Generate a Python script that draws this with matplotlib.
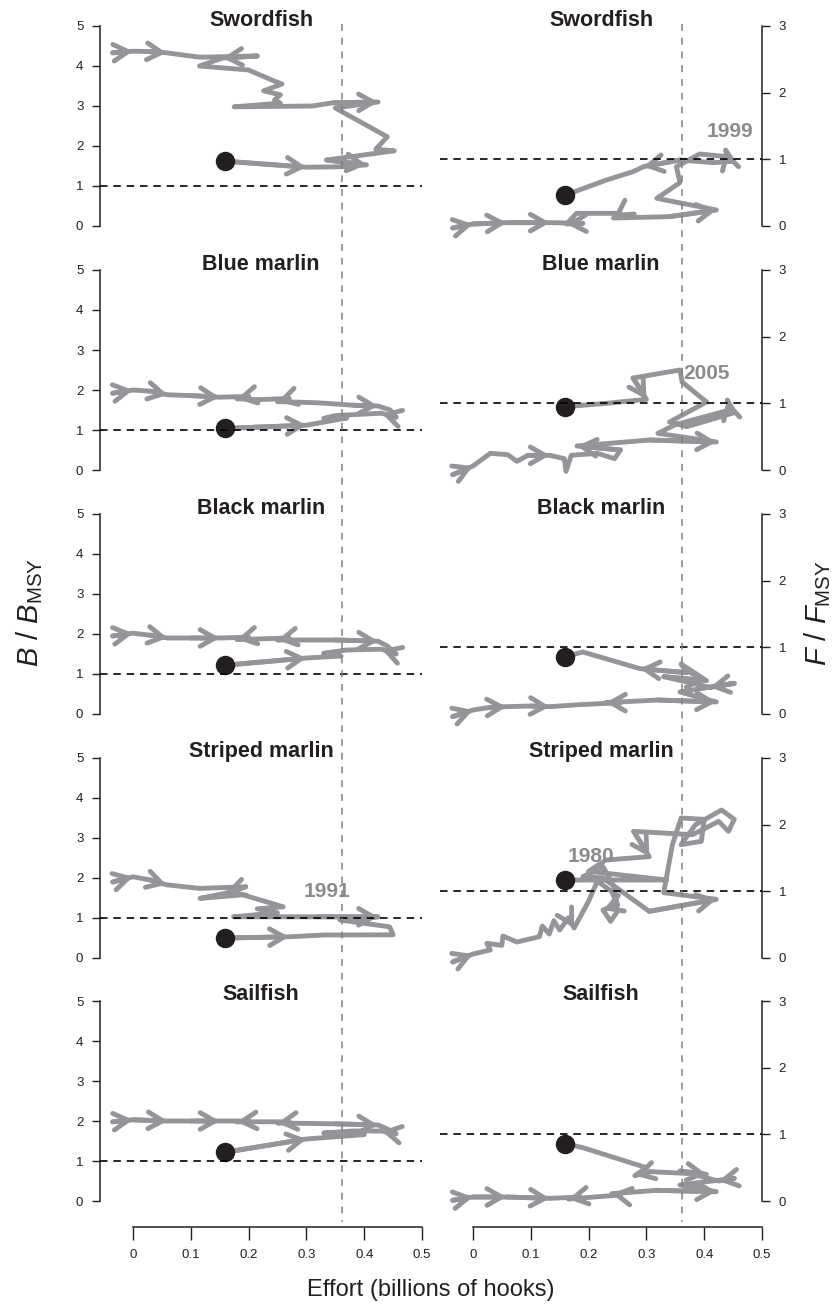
import matplotlib
matplotlib.use('Agg')
import matplotlib.pyplot as plt
from matplotlib.transforms import blended_transform_factory
from matplotlib.lines import Line2D

plt.rcParams['font.family'] = ['Liberation Sans', 'DejaVu Sans']
plt.rcParams['mathtext.fontset'] = 'custom'
plt.rcParams['mathtext.rm'] = 'Liberation Sans'
plt.rcParams['mathtext.it'] = 'Liberation Sans:italic'
plt.rcParams['mathtext.bf'] = 'Liberation Sans:bold'

# ---------------- data ----------------
species = ['Swordfish', 'Blue marlin', 'Black marlin', 'Striped marlin', 'Sailfish']
effort_ticks = [0, 0.1, 0.2, 0.3, 0.4, 0.5]
effort_tick_labels = ['0', '0.1', '0.2', '0.3', '0.4', '0.5']
b_ticks = [0, 1, 2, 3, 4, 5]
f_ticks = [0, 1, 2, 3]
effort_ref = 0.362

# Swordfish
swo_b_effort = [-0.035, 0.000, 0.030, 0.058, 0.115, 0.215, 0.155, 0.115, 0.200, 0.245, 0.258, 0.226, 0.255,
                0.245, 0.255, 0.175, 0.310, 0.346, 0.424, 0.350, 0.440, 0.420, 0.452, 0.335, 0.404, 0.360,
                0.300, 0.160]
swo_b_ratio = [4.33, 4.37, 4.36, 4.33, 4.22, 4.25, 4.20, 4.00, 3.90, 3.62, 3.55, 3.38, 3.28,
               3.15, 3.07, 2.98, 3.00, 3.08, 3.10, 2.95, 2.23, 1.92, 1.88, 1.65, 1.53, 1.48,
               1.47, 1.62]
swo_b_heads = [1, 3, 6, 18, 24]
swo_b_back = [26]
swo_f_effort = [-0.035, 0.000, 0.058, 0.133, 0.190, 0.162, 0.179, 0.255, 0.243, 0.340, 0.421, 0.318,
                0.358, 0.352, 0.392, 0.440, 0.437, 0.450, 0.416, 0.358, 0.295, 0.277, 0.231, 0.160]
swo_f_ratio = [-0.03, 0.03, 0.05, 0.05, 0.04, 0.03, 0.19, 0.19, 0.12, 0.14, 0.24, 0.415,
               0.65, 0.89, 1.08, 1.04, 1.14, 0.97, 0.95, 0.99, 0.89, 0.815, 0.69, 0.465]
swo_f_heads = [1, 2, 3, 5, 8, 10, 16, 20]
swo_f_back = []

# Blue marlin
bum_b_effort = [-0.035, 0.000, 0.030, 0.060, 0.100, 0.150, 0.200, 0.180, 0.220, 0.270, 0.250, 0.320,
                0.380, 0.424, 0.445, 0.455, 0.430, 0.350, 0.330, 0.370, 0.300, 0.160]
bum_b_ratio = [1.92, 2.00, 1.97, 1.88, 1.86, 1.82, 1.84, 1.78, 1.76, 1.79, 1.71, 1.68,
               1.62, 1.60, 1.50, 1.32, 1.42, 1.36, 1.29, 1.30, 1.12, 1.04]
bum_b_heads = [1, 3, 5, 7, 10, 13, 16]
bum_b_back = [20]
bum_f_effort = [-0.035, 0.000, 0.030, 0.060, 0.076, 0.095, 0.133, 0.158, 0.161, 0.170, 0.215, 0.245,
                0.255, 0.180, 0.306, 0.421, 0.320, 0.350, 0.444, 0.440, 0.452, 0.370, 0.340, 0.404,
                0.362, 0.358, 0.277, 0.300, 0.231, 0.160]
bum_f_ratio = [-0.07, 0.06, 0.25, 0.23, 0.13, 0.22, 0.22, 0.17, -0.02, 0.22, 0.25, 0.17,
               0.30, 0.36, 0.45, 0.42, 0.55, 0.68, 0.90, 1.05, 0.86, 0.65, 0.72, 1.02,
               1.32, 1.50, 1.38, 1.06, 1.00, 0.95]
bum_f_heads = [1, 6, 13, 15, 19, 27]
bum_f_back = []

# Black marlin
blm_b_effort = [-0.035, 0.000, 0.030, 0.060, 0.100, 0.150, 0.200, 0.180, 0.270, 0.250, 0.350, 0.424,
                0.440, 0.455, 0.430, 0.370, 0.330, 0.360, 0.300, 0.160]
blm_b_ratio = [1.95, 2.02, 1.97, 1.90, 1.90, 1.90, 1.92, 1.86, 1.90, 1.85, 1.85, 1.82,
               1.70, 1.50, 1.62, 1.60, 1.52, 1.45, 1.40, 1.22]
blm_b_heads = [1, 3, 5, 7, 9, 11, 14]
blm_b_back = [18]
blm_f_effort = [-0.035, 0.000, 0.030, 0.058, 0.100, 0.133, 0.185, 0.255, 0.230, 0.320, 0.421, 0.358,
                0.452, 0.410, 0.330, 0.404, 0.360, 0.370, 0.289, 0.190, 0.160]
blm_f_ratio = [-0.04, 0.06, 0.10, 0.11, 0.12, 0.11, 0.14, 0.17, 0.17, 0.21, 0.18, 0.33,
               0.46, 0.40, 0.56, 0.50, 0.75, 0.62, 0.68, 0.93, 0.86]
blm_f_heads = [1, 3, 5, 8, 10, 13, 15, 18]
blm_f_back = []

# Striped marlin
stm_b_effort = [-0.035, 0.000, 0.030, 0.058, 0.115, 0.195, 0.160, 0.116, 0.190, 0.260, 0.215, 0.250,
                0.174, 0.318, 0.424, 0.358, 0.444, 0.450, 0.330, 0.270, 0.160]
stm_b_ratio = [1.90, 2.03, 1.95, 1.83, 1.74, 1.78, 1.62, 1.49, 1.58, 1.28, 1.23, 1.13,
               1.03, 1.03, 1.03, 0.95, 0.78, 0.58, 0.575, 0.53, 0.50]
stm_b_heads = [1, 3, 6, 14]
stm_b_back = [19]
stm_f_effort = [-0.035, 0.000, 0.030, 0.024, 0.050, 0.052, 0.076, 0.115, 0.120, 0.132, 0.140, 0.150,
                0.165, 0.175, 0.200, 0.215, 0.240, 0.250, 0.225, 0.238, 0.250, 0.245, 0.225, 0.190,
                0.225, 0.305, 0.421, 0.330, 0.345, 0.360, 0.400, 0.395, 0.360, 0.385, 0.430, 0.452,
                0.442, 0.425, 0.380, 0.278, 0.305, 0.230, 0.200, 0.335, 0.160]
stm_f_ratio = [-0.06, 0.06, 0.12, 0.22, 0.19, 0.33, 0.24, 0.32, 0.48, 0.36, 0.56, 0.42,
               0.60, 0.45, 0.85, 1.15, 1.00, 0.80, 0.72, 0.55, 0.70, 1.05, 1.37, 1.22,
               1.20, 0.70, 0.88, 0.98, 1.70, 2.10, 2.08, 1.75, 1.70, 2.00, 2.22, 2.08,
               1.90, 2.05, 1.85, 1.90, 1.52, 1.47, 1.30, 1.17, 1.17]
stm_f_heads = [1, 13, 18, 26, 40]
stm_f_back = []

# Sailfish
sfa_b_effort = [-0.035, 0.000, 0.060, 0.100, 0.150, 0.200, 0.180, 0.270, 0.250, 0.350, 0.424, 0.440,
                0.455, 0.430, 0.380, 0.330, 0.400, 0.300, 0.160]
sfa_b_ratio = [1.98, 2.03, 2.00, 2.00, 2.00, 2.00, 1.98, 1.98, 1.95, 1.93, 1.90, 1.80,
               1.68, 1.75, 1.75, 1.70, 1.66, 1.55, 1.22]
sfa_b_heads = [1, 2, 4, 6, 8, 10, 13]
sfa_b_back = [17]
sfa_f_effort = [-0.035, 0.000, 0.058, 0.133, 0.185, 0.165, 0.255, 0.240, 0.318, 0.421, 0.358, 0.452,
                0.425, 0.358, 0.404, 0.306, 0.280, 0.300, 0.190, 0.160]
sfa_f_ratio = [0.01, 0.06, 0.06, 0.04, 0.06, 0.03, 0.09, 0.11, 0.16, 0.14, 0.24, 0.34,
               0.30, 0.45, 0.40, 0.44, 0.38, 0.50, 0.80, 0.86]
sfa_f_heads = [1, 2, 3, 5, 7, 9, 12, 14, 16]
sfa_f_back = []

panels = [
    (swo_b_effort, swo_b_ratio, swo_b_heads, swo_b_back, swo_f_effort, swo_f_ratio, swo_f_heads, swo_f_back),
    (bum_b_effort, bum_b_ratio, bum_b_heads, bum_b_back, bum_f_effort, bum_f_ratio, bum_f_heads, bum_f_back),
    (blm_b_effort, blm_b_ratio, blm_b_heads, blm_b_back, blm_f_effort, blm_f_ratio, blm_f_heads, blm_f_back),
    (stm_b_effort, stm_b_ratio, stm_b_heads, stm_b_back, stm_f_effort, stm_f_ratio, stm_f_heads, stm_f_back),
    (sfa_b_effort, sfa_b_ratio, sfa_b_heads, sfa_b_back, sfa_f_effort, sfa_f_ratio, sfa_f_heads, sfa_f_back),
]

# year annotations: (row, column, effort, ratio, text)
year_labels = [(0, 1, 0.445, 1.42, '1999'),
               (1, 1, 0.404, 1.45, '2005'),
               (3, 1, 0.204, 1.52, '1980'),
               (3, 0, 0.335, 1.66, '1991')]

# ---------------- layout ----------------
W, H = 834, 1305
fig = plt.figure(figsize=(W / 100, H / 100), dpi=100)

GRAY = '#939598'
DARK = '#231f20'
X0_PX = [100, 440]
AX_W_PX = 322
ROW_Y0 = [226, 470, 714, 958, 1201]
B_SCALE = 40.0
XLIM = (-0.057, 0.5)
B_LIM = (-0.5, 5.4)
F_LIM = (B_LIM[0] * 0.6, B_LIM[1] * 0.6)
TICKFONT = ['Liberation Sans Narrow', 'Liberation Sans', 'DejaVu Sans']
LW = 3.5


def head(ax, tail, tip):
    ax.annotate('', xy=tip, xytext=tail,
                arrowprops=dict(arrowstyle='->,head_length=1.05,head_width=0.6', color=GRAY, lw=LW,
                                shrinkA=0, shrinkB=0, capstyle='round', joinstyle='round'),
                annotation_clip=False, zorder=2)


def draw_path(ax, xs, ys, fwd, back):
    ax.plot(xs, ys, color=GRAY, lw=LW, solid_capstyle='round', solid_joinstyle='round', zorder=2)
    for i in fwd:
        head(ax, (xs[i - 1], ys[i - 1]), (xs[i], ys[i]))
    for i in back:
        head(ax, (xs[i + 1], ys[i + 1]), (xs[i], ys[i]))
    ax.plot(xs[-1], ys[-1], 'o', ms=13, color=DARK, zorder=5)


axes = [[None, None] for _ in range(5)]
for r in range(5):
    bottom_px = ROW_Y0[r] - B_LIM[0] * B_SCALE
    top_px = ROW_Y0[r] - B_LIM[1] * B_SCALE
    for c in range(2):
        ax = fig.add_axes([X0_PX[c] / W, 1 - bottom_px / H, AX_W_PX / W, (bottom_px - top_px) / H])
        ax.set_facecolor('none')
        axes[r][c] = ax
        ax.set_xlim(*XLIM)
        ax.set_ylim(*(B_LIM if c == 0 else F_LIM))
        for s in ['top', 'right', 'left', 'bottom']:
            ax.spines[s].set_visible(False)
        bx, by, bh, bb, fx, fy, fh, fb = panels[r]
        if c == 0:
            draw_path(ax, bx, by, bh, bb)
            ax.spines['left'].set_visible(True)
            ax.spines['left'].set_bounds(0, 5)
            ax.set_yticks(b_ticks)
            ax.set_yticklabels([str(t) for t in b_ticks])
        else:
            draw_path(ax, fx, fy, fh, fb)
            ax.spines['right'].set_visible(True)
            ax.spines['right'].set_bounds(0, 3)
            ax.yaxis.tick_right()
            ax.set_yticks(f_ticks)
            ax.set_yticklabels([str(t) for t in f_ticks])
        for s in ['left', 'right', 'bottom']:
            ax.spines[s].set_linewidth(1.1)
            ax.spines[s].set_color(DARK)
        ax.tick_params(axis='y', direction='out', length=6, width=1.0, colors=DARK, pad=6,
                       labelsize=9.5)
        for lab in ax.get_yticklabels():
            lab.set_family(TICKFONT)
        ax.axhline(1.0, color='black', lw=1.2, linestyle=(0, (4.5, 3.5)), zorder=6)
        tt = blended_transform_factory(ax.transAxes, ax.transData)
        ty = 5.15 if c == 0 else 5.15 * 0.6
        ax.text(0.5, ty, species[r], transform=tt, ha='center', va='center',
                fontsize=15.5, fontweight='bold', color=DARK)
        if r == 4:
            ax.spines['bottom'].set_visible(True)
            ax.spines['bottom'].set_bounds(0, 0.5)
            ax.spines['bottom'].set_position(('outward', 4))
            ax.set_xticks(effort_ticks)
            ax.set_xticklabels(effort_tick_labels)
            ax.tick_params(axis='x', direction='out', length=9, width=1.0, colors=DARK, pad=7,
                           labelsize=9.5)
            for lab in ax.get_xticklabels():
                lab.set_family(TICKFONT)
        else:
            ax.set_xticks([])

for (r, c, ex, ey, txt) in year_labels:
    axes[r][c].text(ex, ey, txt, ha='center', va='center', fontsize=15, fontweight='bold',
                    color='#8a8b8e', zorder=7)

# vertical reference effort lines spanning all rows
for c in range(2):
    trans = blended_transform_factory(axes[0][c].transData, fig.transFigure)
    fig.add_artist(Line2D([effort_ref, effort_ref], [1 - 24 / H, 1 - 1222 / H], transform=trans,
                          color='#808080', lw=1.1, linestyle=(0, (4.5, 4.5))))

fig.text(30 / W, 1 - 613 / H, r'$B\ /\ B_{\mathrm{MSY}}$', rotation=90, ha='center', va='center',
         fontsize=21, color=DARK)
fig.text(818 / W, 1 - 613 / H, r'$F\ /\ F_{\mathrm{MSY}}$', rotation=90, ha='center', va='center',
         fontsize=21, color=DARK)
fig.text(431 / W, 1 - 1290 / H, 'Effort (billions of hooks)', ha='center', va='center',
         fontsize=17, color=DARK)

fig.savefig('out.png', dpi=100)
